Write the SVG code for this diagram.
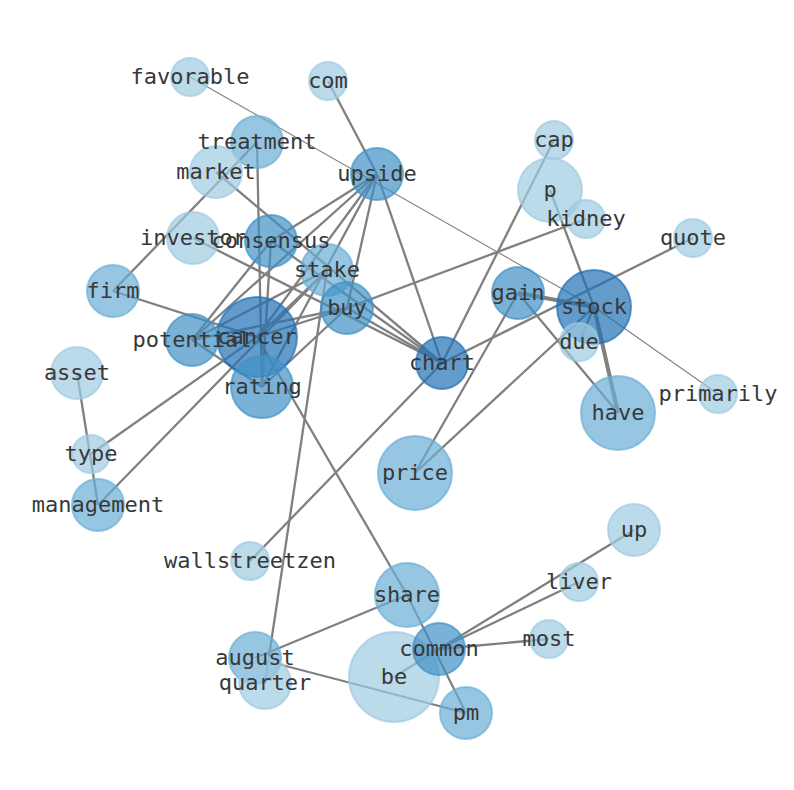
<svg xmlns="http://www.w3.org/2000/svg" width="794" height="790" viewBox="0 0 794 790">
<style>
.e{stroke:#808080;stroke-width:2.3;fill:none}
.t{stroke-width:1.1}
.k{stroke-width:4}
circle{stroke-width:2}
.l{fill:#9ecae1;stroke:#9ecae1;fill-opacity:.7;stroke-opacity:.7}
.m{fill:#6baed6;stroke:#6baed6;fill-opacity:.7;stroke-opacity:.7}
.d{fill:#4292c6;stroke:#4292c6;fill-opacity:.7;stroke-opacity:.7}
.x{fill:#2171b5;stroke:#2171b5;fill-opacity:.7;stroke-opacity:.7}
text{font-family:"DejaVu Sans Mono","Liberation Mono",monospace;font-size:22px;fill:#383838;text-anchor:middle}
</style>
<rect width="794" height="790" fill="#fff"/>
<g id="edges">
<line class="e" x1="328" y1="81" x2="377" y2="174"/>
<line class="e t" x1="190" y1="77" x2="594" y2="307"/>
<line class="e t" x1="594" y1="307" x2="718" y2="394"/>
<line class="e" x1="257" y1="142" x2="113" y2="291"/>
<line class="e" x1="257" y1="142" x2="262" y2="387"/>
<line class="e" x1="216" y1="172" x2="442" y2="363"/>
<line class="e" x1="193" y1="238" x2="442" y2="363"/>
<line class="e" x1="377" y1="174" x2="271" y2="241"/>
<line class="e" x1="377" y1="174" x2="192" y2="340"/>
<line class="e" x1="377" y1="174" x2="257" y2="337"/>
<line class="e" x1="377" y1="174" x2="262" y2="387"/>
<line class="e" x1="377" y1="174" x2="347" y2="308"/>
<line class="e" x1="377" y1="174" x2="442" y2="363"/>
<line class="e" x1="271" y1="241" x2="442" y2="363"/>
<line class="e" x1="271" y1="241" x2="192" y2="340"/>
<line class="e" x1="271" y1="241" x2="262" y2="387"/>
<line class="e" x1="554" y1="140" x2="442" y2="363"/>
<line class="e" x1="442" y1="363" x2="693" y2="238"/>
<line class="e" x1="442" y1="363" x2="250" y2="561"/>
<line class="e" x1="347" y1="308" x2="586" y2="219"/>
<line class="e" x1="347" y1="308" x2="442" y2="363"/>
<line class="e" x1="347" y1="308" x2="192" y2="340"/>
<line class="e" x1="347" y1="308" x2="257" y2="337"/>
<line class="e" x1="347" y1="308" x2="262" y2="387"/>
<line class="e" x1="113" y1="291" x2="257" y2="337"/>
<line class="e" x1="91" y1="454" x2="257" y2="337"/>
<line class="e" x1="98" y1="505" x2="327" y2="270"/>
<line class="e" x1="77" y1="373" x2="98" y2="505"/>
<line class="e" x1="327" y1="270" x2="265" y2="683"/>
<line class="e" x1="327" y1="270" x2="192" y2="340"/>
<line class="e" x1="327" y1="270" x2="257" y2="337"/>
<line class="e" x1="550" y1="190" x2="594" y2="307"/>
<line class="e k" x1="594" y1="307" x2="618" y2="413"/>
<line class="e k" x1="518" y1="293" x2="594" y2="307"/>
<line class="e" x1="518" y1="293" x2="618" y2="413"/>
<line class="e" x1="518" y1="293" x2="415" y2="473"/>
<line class="e" x1="415" y1="473" x2="594" y2="307"/>
<line class="e" x1="579" y1="342" x2="594" y2="307"/>
<line class="e" x1="257" y1="337" x2="407" y2="595"/>
<line class="e" x1="407" y1="595" x2="466" y2="713"/>
<line class="e" x1="255" y1="658" x2="407" y2="595"/>
<line class="e" x1="255" y1="658" x2="466" y2="713"/>
<line class="e" x1="394" y1="677" x2="439" y2="649"/>
<line class="e" x1="439" y1="649" x2="579" y2="582"/>
<line class="e" x1="439" y1="649" x2="634" y2="530"/>
<line class="e" x1="439" y1="649" x2="549" y2="639"/>
<line class="e" x1="192" y1="340" x2="262" y2="387"/>
</g>
<g id="n-favorable"><circle class="l" cx="190" cy="77" r="19"/><text x="190" y="84">favorable</text></g>
<g id="n-com"><circle class="l" cx="328" cy="81" r="19"/><text x="328" y="88">com</text></g>
<g id="n-treatment"><circle class="m" cx="257" cy="142" r="26"/></g>
<g id="n-market"><circle class="l" cx="216" cy="172" r="26"/></g>
<g id="n-upside"><circle class="d" cx="377" cy="174" r="26"/></g>
<g id="n-cap"><circle class="l" cx="554" cy="140" r="19"/></g>
<g id="n-p"><circle class="l" cx="550" cy="190" r="32"/></g>
<g id="n-kidney"><circle class="l" cx="586" cy="219" r="19"/></g>
<g id="n-quote"><circle class="l" cx="693" cy="238" r="19"/></g>
<g id="n-investor"><circle class="l" cx="193" cy="238" r="26"/></g>
<g id="n-consensus"><circle class="d" cx="271" cy="241" r="26"/></g>
<g id="n-stake"><circle class="m" cx="327" cy="270" r="26"/></g>
<g id="n-firm"><circle class="m" cx="113" cy="291" r="26"/></g>
<g id="n-buy"><circle class="d" cx="347" cy="308" r="26"/></g>
<g id="n-gain"><circle class="d" cx="518" cy="293" r="26"/></g>
<g id="n-stock"><circle class="x" cx="594" cy="307" r="37"/></g>
<g id="n-potential"><circle class="d" cx="192" cy="340" r="26"/></g>
<g id="n-cancer"><circle class="x" cx="257" cy="337" r="40"/></g>
<g id="n-rating"><circle class="d" cx="262" cy="387" r="31"/></g>
<g id="n-chart"><circle class="x" cx="442" cy="363" r="26"/></g>
<g id="n-due"><circle class="l" cx="579" cy="342" r="19"/></g>
<g id="n-asset"><circle class="l" cx="77" cy="373" r="26"/></g>
<g id="n-primarily"><circle class="l" cx="718" cy="394" r="19"/></g>
<g id="n-have"><circle class="m" cx="618" cy="413" r="37"/></g>
<g id="n-type"><circle class="l" cx="91" cy="454" r="19"/></g>
<g id="n-price"><circle class="m" cx="415" cy="473" r="37"/></g>
<g id="n-management"><circle class="m" cx="98" cy="505" r="26"/></g>
<g id="n-up"><circle class="l" cx="634" cy="530" r="26"/></g>
<g id="n-wallstreetzen"><circle class="l" cx="250" cy="561" r="19"/></g>
<g id="n-liver"><circle class="l" cx="579" cy="582" r="19"/></g>
<g id="n-share"><circle class="m" cx="407" cy="595" r="32"/></g>
<g id="n-most"><circle class="l" cx="549" cy="639" r="19"/></g>
<g id="n-be"><circle class="l" cx="394" cy="677" r="45"/></g>
<g id="n-common"><circle class="d" cx="439" cy="649" r="26"/></g>
<g id="n-august"><circle class="m" cx="255" cy="658" r="26"/></g>
<g id="n-quarter"><circle class="l" cx="265" cy="683" r="26"/></g>
<g id="n-pm"><circle class="m" cx="466" cy="713" r="26"/></g>
<g id="labels">
<text x="257" y="149">treatment</text>
<text x="216" y="179">market</text>
<text x="377" y="181">upside</text>
<text x="554" y="147">cap</text>
<text x="550" y="197">p</text>
<text x="586" y="226">kidney</text>
<text x="693" y="245">quote</text>
<text x="193" y="245">investor</text>
<text x="271" y="248">consensus</text>
<text x="327" y="277">stake</text>
<text x="113" y="298">firm</text>
<text x="347" y="315">buy</text>
<text x="518" y="300">gain</text>
<text x="594" y="314">stock</text>
<text x="192" y="347">potential</text>
<text x="257" y="344">cancer</text>
<text x="262" y="394">rating</text>
<text x="442" y="370">chart</text>
<text x="579" y="349">due</text>
<text x="77" y="380">asset</text>
<text x="718" y="401">primarily</text>
<text x="618" y="420">have</text>
<text x="91" y="461">type</text>
<text x="415" y="480">price</text>
<text x="98" y="512">management</text>
<text x="634" y="537">up</text>
<text x="250" y="568">wallstreetzen</text>
<text x="579" y="589">liver</text>
<text x="407" y="602">share</text>
<text x="549" y="646">most</text>
<text x="394" y="684">be</text>
<text x="439" y="656">common</text>
<text x="255" y="665">august</text>
<text x="265" y="690">quarter</text>
<text x="466" y="720">pm</text>
</g>
</svg>
